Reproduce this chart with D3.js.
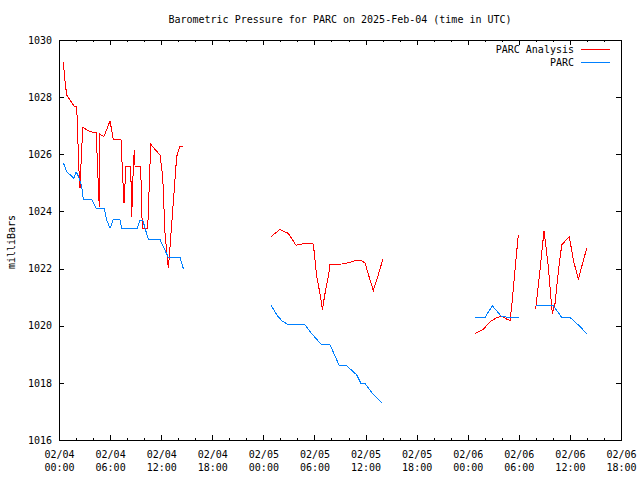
<!DOCTYPE html>
<html>
<head>
<meta charset="utf-8">
<script src="https://cdn.jsdelivr.net/npm/d3@7"></script>
<style>
  html, body { margin: 0; padding: 0; background: #fff; }
  svg { display: block; }
  text { font-family: "DejaVu Sans Mono", "Liberation Mono", monospace; font-size: 10px; fill: #000; }
</style>
</head>
<body>
<svg id="chart" width="640" height="480"></svg>
<script>
// ---- data (hours since 2025-02-04 00:00 UTC; null = gap) ----
const analysisHours = [
  0.51, 0.67, 0.9, 1.76, 2.08, 2.2, 2.35, 2.47, 2.62, 2.74, 2.82, 3.64, 4.35, 4.43, 4.66, 4.73, 4.81, 5.28, 5.99, 6.38,
  7.28, 7.48, 7.63, 7.87, 8.42, 8.54, 8.73, 8.84, 8.93, 9.59, 9.78, 10.42, 10.77, 11.86, 12.18, 12.45, 12.84, 13.04,
  13.5, 13.82, 14.21, 14.6,
  null,
  24.9, 25.95, 26.93, 27.83, 28.5, 29.4, 29.87, 30.26, 30.65, 30.93, 31.24, 31.63, 31.83, 33.2, 34.17, 34.88, 35.55,
  35.94, 36.41, 36.91, 37.5, 38.02,
  null,
  48.86, 49.83, 50.62, 51.4, 51.99, 52.58, 52.97, 53.16, 53.55, 53.94,
  null,
  55.98, 56.49, 56.96, 57.46, 57.93, 58.25, 58.64, 59.04, 59.62, 59.93, 60.4, 60.99, 61.39, 61.97
];
const analysisValues = [
  1029.24, 1028.66, 1028.07, 1027.69, 1027.69, 1026.62, 1025.4, 1024.81, 1025.9, 1026.6, 1026.94, 1026.79, 1026.76,
  1026.3, 1024.58, 1024.17, 1026.7, 1026.62, 1027.17, 1026.52,
  1026.5, 1025.22, 1024.28, 1025.59, 1025.59, 1023.82, 1025.59, 1026.15, 1025.59, 1025.59, 1023.41, 1023.41, 1026.35,
  1025.97, 1025.22, 1023.23, 1022.01, 1022.77, 1024.63, 1025.92, 1026.29, 1026.29,
  null,
  1023.12, 1023.37, 1023.23, 1022.82, 1022.86, 1022.88, 1022.86, 1021.72, 1021.13, 1020.57, 1021.13, 1021.72, 1022.15,
  1022.16, 1022.21, 1022.3, 1022.28, 1022.19, 1021.72, 1021.23, 1021.78, 1022.32,
  null,
  1019.73, 1019.87, 1020.14, 1020.28, 1020.34, 1020.23, 1020.18, 1020.67, 1021.95, 1023.18,
  null,
  1020.57, 1021.95, 1023.33, 1022.07, 1020.43, 1020.78, 1021.89, 1022.83, 1023.02, 1023.12, 1022.3, 1021.63, 1022.07,
  1022.71
];
const parcHours = [
  0.51, 0.9, 1.76, 2.0, 2.27, 2.67, 2.85, 3.84, 4.35, 5.32, 5.6, 5.99, 6.38, 7.16, 7.36, 9.2, 9.51, 9.83, 10.49,
  11.86, 12.84, 14.21, 14.6,
  null,
  24.9, 25.57, 26.15, 26.93, 28.89, 29.48, 30.85, 31.83, 32.92, 33.79, 34.96, 35.47, 35.94, 36.72, 37.97,
  null,
  48.86, 50.03, 50.89, 51.99, 54.02,
  null,
  55.98, 58.05, 59.04, 60.01, 60.8, 61.39, 61.97
];
const parcValues = [
  1025.71, 1025.39, 1025.16, 1025.39, 1025.24, 1024.87, 1024.42, 1024.42, 1024.11, 1024.11, 1023.7, 1023.41, 1023.72,
  1023.72, 1023.41, 1023.41, 1023.7, 1023.7, 1023.02, 1023.02, 1022.39, 1022.39, 1022.0,
  null,
  1020.72, 1020.38, 1020.18, 1020.03, 1020.03, 1019.79, 1019.33, 1019.33, 1018.6, 1018.6, 1018.28, 1017.98, 1017.98,
  1017.66, 1017.28,
  null,
  1020.29, 1020.29, 1020.7, 1020.31, 1020.29,
  null,
  1020.7, 1020.7, 1020.29, 1020.29, 1020.08, 1019.91, 1019.71
];
const seriesNames = ["PARC Analysis", "PARC"];
const seriesColors = ["#ff0000", "#0080ff"];
const yTickValues = [1016, 1018, 1020, 1022, 1024, 1026, 1028, 1030];
const xMajorHours = [0, 6, 12, 18, 24, 30, 36, 42, 48, 54, 60, 66];
const xMinorHours = d3.range(0, 67, 2);
const titleText = "Barometric Pressure for PARC on 2025-Feb-04 (time in UTC)";
const yLabel = "milliBars";

// ---- layout ----
const START = Date.UTC(2025, 1, 4, 0, 0, 0);
const toDate = h => new Date(START + h * 3600e3);
const L = 59, R = 621, T = 40, B = 440;

const svg = d3.select("#chart");
const x = d3.scaleUtc().domain([toDate(0), toDate(66)]).range([L, R]);
const y = d3.scaleLinear().domain([1016, 1030]).range([B, T]);

// frame
svg.append("rect").attr("x", L + 0.5).attr("y", T + 0.5).attr("width", R - L).attr("height", B - T)
  .attr("fill", "none").attr("stroke", "#000").attr("stroke-width", 1).attr("shape-rendering", "crispEdges");

const fmtDate = d3.utcFormat("%m/%d");
const fmtTime = d3.utcFormat("%H:%M");

// bottom axis, major
const gB = svg.append("g").attr("transform", `translate(0,${B})`)
  .call(d3.axisBottom(x).tickValues(xMajorHours.map(toDate)).tickSizeInner(-5).tickSizeOuter(0).tickPadding(11)
    .tickFormat(fmtDate));
gB.select(".domain").remove();
gB.selectAll(".tick text").each(function(d) {
  const t = d3.select(this);
  t.text(null);
  t.append("tspan").attr("x", 0).text(fmtDate(d));
  t.append("tspan").attr("x", 0).attr("dy", 12.5).text(fmtTime(d));
});
// bottom minor
const gBm = svg.append("g").attr("transform", `translate(0,${B})`)
  .call(d3.axisBottom(x).tickValues(xMinorHours.map(toDate)).tickSizeInner(-2).tickSizeOuter(0).tickFormat(""));
gBm.select(".domain").remove();
// top axis major & minor
const gT = svg.append("g").attr("transform", `translate(0,${T})`)
  .call(d3.axisTop(x).tickValues(xMajorHours.map(toDate)).tickSizeInner(-5).tickSizeOuter(0).tickFormat(""));
gT.select(".domain").remove();
const gTm = svg.append("g").attr("transform", `translate(0,${T})`)
  .call(d3.axisTop(x).tickValues(xMinorHours.map(toDate)).tickSizeInner(-2).tickSizeOuter(0).tickFormat(""));
gTm.select(".domain").remove();

// left axis
const gL = svg.append("g").attr("transform", `translate(${L},0)`)
  .call(d3.axisLeft(y).tickValues(yTickValues).tickSizeInner(-5).tickSizeOuter(0).tickPadding(7)
    .tickFormat(d3.format("d")));
gL.select(".domain").remove();
// right axis mirror
const gR = svg.append("g").attr("transform", `translate(${R},0)`)
  .call(d3.axisRight(y).tickValues(yTickValues).tickSizeInner(-5).tickSizeOuter(0).tickFormat(""));
gR.select(".domain").remove();

svg.selectAll(".tick line").attr("shape-rendering", "crispEdges").attr("stroke", "#000");
svg.selectAll(".tick text").attr("font-family", null).attr("font-size", null).attr("fill", "#000");
svg.selectAll("g").attr("font-family", null).attr("font-size", null);

// title & y label
svg.append("text").attr("x", 340).attr("y", 23).attr("text-anchor", "middle").text(titleText);
svg.append("text").attr("transform", "translate(14.5,242) rotate(-90)").attr("text-anchor", "middle").text(yLabel);

// series
const line = d3.line()
  .defined(d => d[0] !== null && d[1] !== null)
  .x(d => x(toDate(d[0])))
  .y(d => y(d[1]));

const series = [
  { hours: analysisHours, values: analysisValues },
  { hours: parcHours, values: parcValues }
];
series.forEach((s, i) => {
  const pts = s.hours.map((h, j) => [h, s.values[j]]);
  svg.append("path").datum(pts)
    .attr("d", line)
    .attr("fill", "none")
    .attr("stroke", seriesColors[i])
    .attr("stroke-width", 1)
    .attr("shape-rendering", "crispEdges");
});

// legend
const legendY = [49.5, 62.5];
seriesNames.forEach((name, i) => {
  svg.append("text").attr("x", 574).attr("y", legendY[i] + 3.5).attr("text-anchor", "end").text(name);
  svg.append("line").attr("x1", 581).attr("x2", 610).attr("y1", legendY[i]).attr("y2", legendY[i])
    .attr("stroke", seriesColors[i]).attr("stroke-width", 1).attr("shape-rendering", "crispEdges");
});
</script>
</body>
</html>
